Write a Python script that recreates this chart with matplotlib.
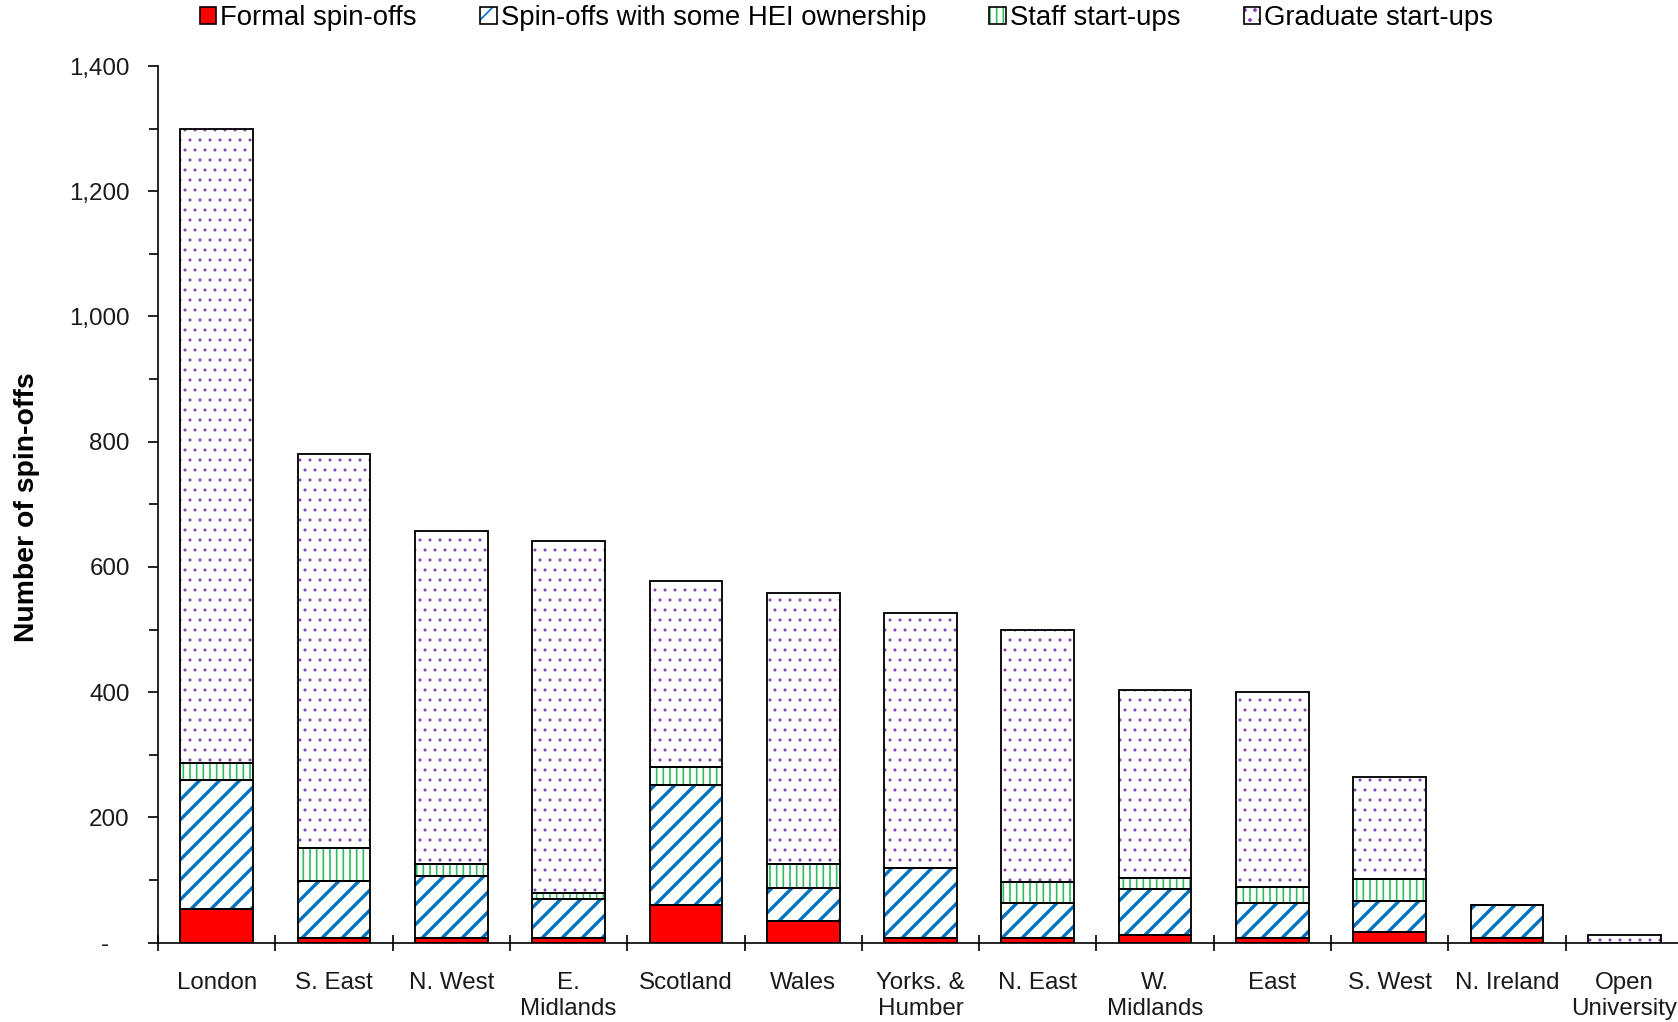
import matplotlib
matplotlib.use("Agg")
import matplotlib.pyplot as plt
from matplotlib.patches import Patch
from matplotlib.legend_handler import HandlerTuple
from matplotlib.ticker import FuncFormatter, MultipleLocator
import numpy as np

plt.rcParams['font.family'] = ['Liberation Sans', 'DejaVu Sans']

regions = ['London', 'S. East', 'N. West', 'E.\nMidlands', 'Scotland', 'Wales',
           'Yorks. &\nHumber', 'N. East', 'W.\nMidlands', 'East', 'S. West',
           'N. Ireland', 'Open\nUniversity']
formal = [54, 8, 8, 8, 60, 34, 8, 8, 12, 8, 17, 8, 0]
hei_owned = [206, 91, 99, 62, 192, 54, 111, 55, 73, 55, 49, 52, 0]
staff = [27, 52, 18, 10, 29, 37, 0, 34, 18, 26, 36, 0, 0]
graduate = [1013, 629, 533, 561, 297, 434, 408, 402, 300, 311, 163, 0, 12]

series = [
    ('Formal spin-offs', formal, '#ff0000', None, '#ff0000', 1.0),
    ('Spin-offs with some HEI ownership', hei_owned, 'white', '//', '#0070c0', 2.0),
    ('Staff start-ups', staff, 'white', '|||', '#2ebd5f', 1.0),
    ('Graduate start-ups', graduate, 'white', '..', '#7a3fb0', 0.6),
]

DPI = 120
fig = plt.figure(figsize=(1678 / DPI, 1022 / DPI), dpi=DPI)
ax = fig.add_axes([158 / 1678, 79.3 / 1022, 1525 / 1678, 876.7 / 1022])

x = np.arange(len(regions))
width = 0.62
bottom = np.zeros(len(regions))
handles = []
for label, vals, face, hatch, hcol, hlw in series:
    vals = np.array(vals, dtype=float)
    # hatch drawn in its own colour, black outline drawn on top
    with plt.rc_context({'hatch.linewidth': hlw}):
        bars = ax.bar(x, vals, width, bottom=bottom, color=face, hatch=hatch,
                      edgecolor=hcol, linewidth=0, zorder=2)
        for b in bars:
            if hasattr(b, 'set_hatch_linewidth'):
                b.set_hatch_linewidth(hlw)
    ax.bar(x, vals, width, bottom=bottom, fill=False, edgecolor='black',
           linewidth=1.1, zorder=3)
    with plt.rc_context({'hatch.linewidth': hlw}):
        hp = Patch(facecolor=face, edgecolor=hcol, hatch=hatch, linewidth=0)
    outline = Patch(fill=False, edgecolor='black', linewidth=1.0)
    handles.append((hp, outline))
    bottom += vals

ax.set_xlim(-0.5, len(regions) - 0.5)
ax.set_ylim(0, 1400)

for s in ['top', 'right']:
    ax.spines[s].set_visible(False)
for s in ['left', 'bottom']:
    ax.spines[s].set_linewidth(1.0)

ax.yaxis.set_major_locator(MultipleLocator(200))
ax.yaxis.set_minor_locator(MultipleLocator(100))
ax.yaxis.set_major_formatter(FuncFormatter(
    lambda v, p: '-   ' if v == 0 else '{:,.0f}'.format(v)))
ax.tick_params(axis='y', which='major', direction='out', length=6, width=1.0,
               pad=11, labelsize=14.5, labelcolor='#1a1a1a')
ax.tick_params(axis='y', which='minor', direction='out', length=5.5, width=1.0)

ax.set_xticks(x)
ax.set_xticklabels(regions, linespacing=1.25)
ax.set_xticks(np.arange(-0.5, len(regions), 1.0), minor=True)
ax.tick_params(axis='x', which='major', length=0, pad=17.5, labelsize=14.5,
               labelcolor='#1a1a1a')
ax.tick_params(axis='x', which='minor', direction='inout', length=10, width=1.0)

ax.set_ylabel('Number of spin-offs', fontsize=17, fontweight='bold')
ax.yaxis.set_label_coords(-0.0774, 0.497)

fig.legend(handles, [s[0] for s in series], loc='center',
           bbox_to_anchor=(0.5045, 0.982), ncol=4, frameon=False,
           fontsize=16.5, handlelength=0.6, handleheight=0.6,
           handletextpad=0.15, columnspacing=2.3,
           handler_map={tuple: HandlerTuple(ndivide=1)})

fig.savefig('out.png', dpi=DPI)
